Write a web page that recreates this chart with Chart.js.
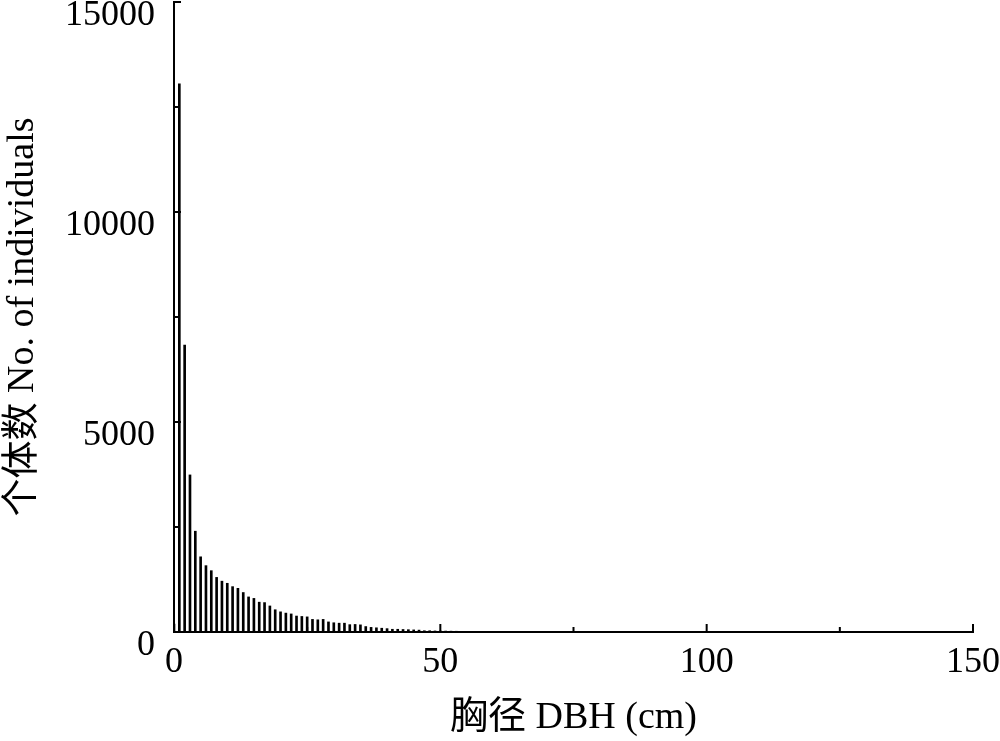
<!DOCTYPE html>
<html>
<head>
<meta charset="utf-8">
<script src="https://cdn.jsdelivr.net/npm/chart.js@4/dist/chart.umd.min.js"></script>
<style>
html,body{margin:0;padding:0;background:#fff;}
canvas{display:block;}
</style>
</head>
<body>
<canvas id="c" width="1000" height="741"></canvas>
<script>
const dbh = [0,1,2,3,4,5,6,7,8,9,10,11,12,13,14,15,16,17,18,19,20,21,22,23,24,25,26,27,28,29,30,31,32,33,34,35,36,37,38,39,40,41,42,43,44,45,46,47,48,49,50,51,52,53,54,55,56,57];
const counts = [190,13050,6830,3740,2400,1790,1580,1460,1300,1210,1160,1080,1040,940,835,800,710,700,620,530,480,450,430,380,370,360,300,290,300,240,220,210,210,175,180,170,130,110,100,90,80,65,65,60,55,50,45,30,30,25,25,22,20,18,15,12,10,8];
const xTicks = [0,50,100,150];
const xMinorTicks = [25,75,125];
const yTicks = [0,5000,10000,15000];
const yMinorTicks = [2500,7500,12500];
const xTitle = '胸径 DBH (cm)';
const yTitle = '个体数 No. of individuals';

const FONT = "'Liberation Serif', 'Noto Sans CJK SC', serif";

const tickPlugin = {
  id: 'inwardTicks',
  afterDraw(chart) {
    const ctx = chart.ctx;
    const xs = chart.scales.x, ys = chart.scales.y;
    const area = chart.chartArea;
    ctx.save();
    ctx.strokeStyle = '#000';
    ctx.lineWidth = 2;
    ctx.beginPath();
    xTicks.forEach(v => { const p = xs.getPixelForValue(v); ctx.moveTo(p, area.bottom); ctx.lineTo(p, area.bottom - 8); });
    xMinorTicks.forEach(v => { const p = xs.getPixelForValue(v); ctx.moveTo(p, area.bottom); ctx.lineTo(p, area.bottom - 5); });
    yTicks.forEach(v => { const p = ys.getPixelForValue(v); ctx.moveTo(area.left, p); ctx.lineTo(area.left + 7, p); });
    yMinorTicks.forEach(v => { const p = ys.getPixelForValue(v); ctx.moveTo(area.left, p); ctx.lineTo(area.left + 4, p); });
    ctx.stroke();
    ctx.restore();
  }
};

new Chart(document.getElementById('c'), {
  type: 'bar',
  data: {
    datasets: [{
      data: dbh.map((d, i) => ({x: d, y: counts[i]})),
      backgroundColor: '#000',
      borderWidth: 0,
      barThickness: 2
    }]
  },
  options: {
    responsive: false,
    animation: false,
    layout: { padding: { top: 2, right: 27, left: 0, bottom: 0 } },
    plugins: { legend: { display: false }, tooltip: { enabled: false } },
    scales: {
      x: {
        type: 'linear', min: 0, max: 150, offset: false,
        afterBuildTicks(s) { s.ticks = xTicks.map(v => ({value: v})); },
        afterFit(s) { s.height = 109; s.paddingLeft = 0; s.paddingRight = 0; },
        grid: { display: true, drawOnChartArea: false, drawTicks: false },
        border: { display: true, color: '#000', width: 2 },
        ticks: { color: '#000', font: { family: FONT, size: 36 }, padding: 9, maxRotation: 0, autoSkip: false },
        title: { display: true, text: xTitle, color: '#000', font: { family: FONT, size: 38 }, padding: { top: 0, bottom: 0 } }
      },
      y: {
        type: 'linear', min: 0, max: 15000,
        afterBuildTicks(s) { s.ticks = yTicks.map(v => ({value: v})); },
        afterFit(s) { s.width = 174; s.paddingTop = 0; s.paddingBottom = 0; },
        grid: { display: true, drawOnChartArea: false, drawTicks: false },
        border: { display: true, color: '#000', width: 2 },
        ticks: { color: '#000', font: { family: FONT, size: 36 }, padding: 19, labelOffset: 14, callback: v => String(v) },
        title: { display: true, text: yTitle, color: '#000', font: { family: FONT, size: 38 }, padding: { top: 0, bottom: 0 } }
      }
    }
  },
  plugins: [tickPlugin]
});
</script>
</body>
</html>
